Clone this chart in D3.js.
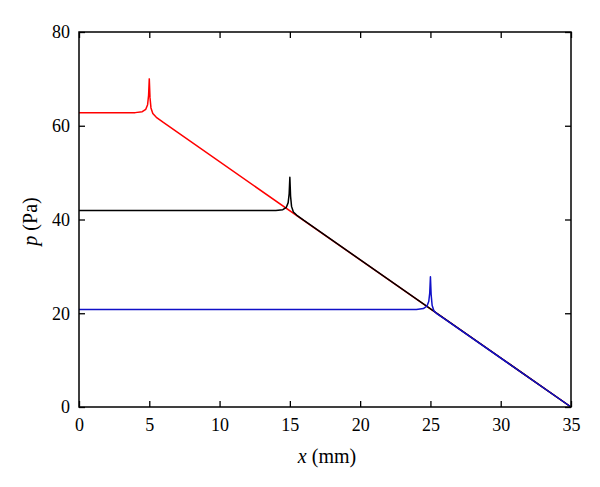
<!DOCTYPE html>
<html>
<head>
<meta charset="utf-8">
<script src="https://cdn.jsdelivr.net/npm/d3@7"></script>
<style>
  body { margin: 0; background: #fff; }
  svg text { font-family: "Liberation Serif", "Times New Roman", serif; fill: #000; }
</style>
</head>
<body>
<div id="chart"></div>
<script>
// data: x in mm, p in Pa
var xTicks = [0, 5, 10, 15, 20, 25, 30, 35];
var yTicks = [0, 20, 40, 60, 80];

var redX = [0, 4.0, 4.5, 4.75, 4.88, 4.95, 5.0, 5.05, 5.12, 5.25, 5.5, 6.0, 35];
var redP = [62.8, 62.8, 63.0, 63.5, 64.5, 66.5, 70.0, 66.0, 63.8, 62.6, 61.8, 60.7, 0];

var blackX = [0, 14.0, 14.5, 14.75, 14.88, 14.95, 15.0, 15.05, 15.12, 15.25, 15.5, 16.0, 35];
var blackP = [41.9, 41.9, 42.1, 42.6, 43.6, 45.5, 49.0, 45.0, 42.8, 41.6, 40.9, 39.8, 0];

var blueX = [0, 24.0, 24.5, 24.75, 24.88, 24.95, 25.0, 25.05, 25.12, 25.25, 25.5, 26.0, 35];
var blueP = [20.8, 20.8, 21.0, 21.5, 22.5, 24.3, 27.8, 24.0, 21.7, 20.5, 19.8, 18.8, 0];

var svgWidth = 600;
var svgHeight = 487;
var margin = { top: 32, right: 29, bottom: 80, left: 79 };
var chartWidth = svgWidth - margin.left - margin.right;
var chartHeight = svgHeight - margin.top - margin.bottom;

var svg = d3.select("#chart")
  .append("svg")
  .attr("width", svgWidth)
  .attr("height", svgHeight);

var chartGroup = svg.append("g")
  .attr("transform", `translate(${margin.left}, ${margin.top})`);

var xScale = d3.scaleLinear().domain([0, 35]).range([0, chartWidth]);
var yScale = d3.scaleLinear().domain([0, 80]).range([chartHeight, 0]);

var series = [
  { x: redX, p: redP, color: "#ff0000" },
  { x: blackX, p: blackP, color: "#000000" },
  { x: blueX, p: blueP, color: "#1010c8" }
];

var line = d3.line()
  .x(d => xScale(d[0]))
  .y(d => yScale(d[1]));

series.forEach(function(s) {
  var pts = s.x.map((v, i) => [v, s.p[i]]);
  chartGroup.append("path")
    .datum(pts)
    .attr("fill", "none")
    .attr("stroke", s.color)
    .attr("stroke-width", 1.5)
    .attr("stroke-linejoin", "round")
    .attr("d", line);
});

// axes with inward ticks on all four sides
var tickLen = 6;
var xAxis = d3.axisBottom(xScale).tickValues(xTicks).tickSizeInner(-tickLen).tickSizeOuter(0).tickPadding(11);
var xAxisTop = d3.axisTop(xScale).tickValues(xTicks).tickSizeInner(-tickLen).tickSizeOuter(0).tickFormat("");
var yAxis = d3.axisLeft(yScale).tickValues(yTicks).tickSizeInner(-tickLen).tickSizeOuter(0).tickPadding(9);
var yAxisRight = d3.axisRight(yScale).tickValues(yTicks).tickSizeInner(-tickLen).tickSizeOuter(0).tickFormat("");

var gx = chartGroup.append("g").attr("transform", `translate(0, ${chartHeight})`).call(xAxis);
var gxt = chartGroup.append("g").call(xAxisTop);
var gy = chartGroup.append("g").call(yAxis);
var gyr = chartGroup.append("g").attr("transform", `translate(${chartWidth}, 0)`).call(yAxisRight);

[gx, gxt, gy, gyr].forEach(function(g) {
  g.attr("font-family", "Liberation Serif").attr("font-size", 18);
  g.select(".domain").remove();
  g.selectAll(".tick line").attr("stroke", "#000").attr("stroke-width", 1.3);
});

// frame
chartGroup.append("rect")
  .attr("width", chartWidth)
  .attr("height", chartHeight)
  .attr("fill", "none")
  .attr("stroke", "#000")
  .attr("stroke-width", 1.5);

// axis titles
var xLabel = svg.append("text")
  .attr("x", margin.left + chartWidth / 2 + 2)
  .attr("y", 463)
  .attr("text-anchor", "middle")
  .attr("font-size", "20px");
xLabel.append("tspan").attr("font-style", "italic").text("x");
xLabel.append("tspan").text(" (mm)");

var yLabel = svg.append("text")
  .attr("transform", `translate(37, ${margin.top + chartHeight / 2 + 2}) rotate(-90)`)
  .attr("text-anchor", "middle")
  .attr("font-size", "20px");
yLabel.append("tspan").attr("font-style", "italic").text("p");
yLabel.append("tspan").text(" (Pa)");
</script>
</body>
</html>
